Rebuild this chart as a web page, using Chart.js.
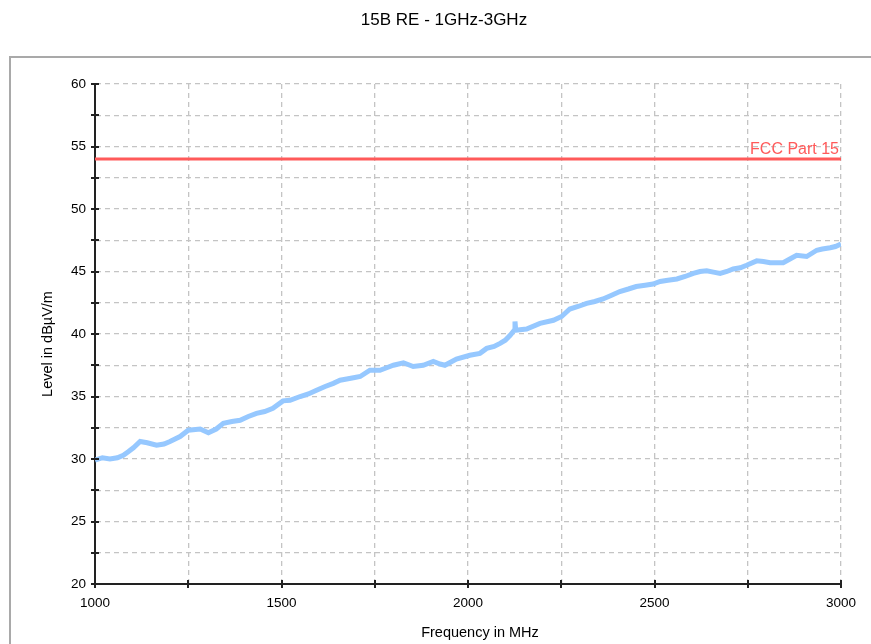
<!DOCTYPE html>
<html>
<head>
<meta charset="utf-8">
<title>15B RE - 1GHz-3GHz</title>
<script src="https://cdn.jsdelivr.net/npm/chart.js@4.4.0/dist/chart.umd.min.js"></script>
<style>
  body { margin: 0; background: #ffffff; }
  #chart { display: block; }
</style>
</head>
<body>
<canvas id="chart" width="871" height="644"></canvas>
<script>
'use strict'

// Radiated emissions scan 1GHz - 3GHz against the FCC Part 15 limit line

// Chart Data
let frequencies = [
  1000, 1020, 1040, 1060, 1076, 1090, 1103, 1121, 1140, 1165,
  1185, 1201, 1228, 1250, 1282, 1304, 1325, 1344, 1367, 1389,
  1411, 1433, 1455, 1477, 1504, 1523, 1550, 1572, 1594, 1617,
  1639, 1657, 1675, 1693, 1711, 1737, 1764, 1782, 1800, 1827,
  1853, 1880, 1907, 1925, 1938, 1969, 2005, 2032, 2050, 2070,
  2086, 2100, 2113, 2124, 2126, 2128, 2157, 2193, 2229, 2251,
  2273, 2295, 2318, 2340, 2362, 2385, 2407, 2430, 2451, 2475,
  2496, 2515, 2536, 2560, 2582, 2604, 2622, 2640, 2658, 2676,
  2694, 2711, 2730, 2747, 2774, 2792, 2810, 2828, 2845, 2863,
  2881, 2908, 2935, 2950, 2971, 2985, 3000
];
let levels = [
  29.9, 30.1, 30.0, 30.1, 30.3, 30.6, 30.9, 31.4, 31.3, 31.1,
  31.2, 31.4, 31.8, 32.3, 32.4, 32.1, 32.4, 32.85, 33.0, 33.1,
  33.4, 33.65, 33.8, 34.05, 34.65, 34.7, 35.0, 35.2, 35.5, 35.8,
  36.05, 36.3, 36.4, 36.5, 36.6, 37.1, 37.1, 37.3, 37.5, 37.7,
  37.4, 37.5, 37.8, 37.6, 37.5, 38.0, 38.3, 38.45, 38.85, 39.0,
  39.25, 39.5, 39.9, 40.3, 41.0, 40.3, 40.4, 40.85, 41.1, 41.4,
  42.0, 42.2, 42.45, 42.6, 42.8, 43.1, 43.4, 43.6, 43.8, 43.9,
  44.0, 44.2, 44.3, 44.4, 44.6, 44.85, 45.0, 45.05, 44.95, 44.85,
  45.0, 45.2, 45.3, 45.5, 45.85, 45.8, 45.7, 45.7, 45.7, 46.0,
  46.3, 46.2, 46.7, 46.8, 46.9, 47.0, 47.2
];
let limitFrequencies = [1000, 3000];
let limitLevels = [54, 54];
let limitName = 'FCC Part 15';
let xTickValues = [1000, 1500, 2000, 2500, 3000];
let yTickValues = [20, 25, 30, 35, 40, 45, 50, 55, 60];

let chartTitle = '15B RE - 1GHz-3GHz';
let xTitle = 'Frequency in MHz';
let yTitle = 'Level in dB\u00B5V/m';
let fontName = "'Liberation Sans', Arial, sans-serif";

// Global Functions
function toPoints(xs, ys) {
  let points = [];
  for (let i = 0; i < xs.length; i++) {
    points.push({ x: xs[i], y: ys[i] });
  }
  return points;
}

// frame, titles, limit label and the little ticks that cross each axis
let decorations = {
  id: 'decorations',
  beforeDraw(chart) {
    let ctx = chart.ctx;
    ctx.save();
    ctx.strokeStyle = '#a9a9a9';
    ctx.lineWidth = 2;
    ctx.strokeRect(10, 57, 900, 700);
    ctx.restore();
  },
  afterDraw(chart) {
    let ctx = chart.ctx;
    let area = chart.chartArea;
    let x = chart.scales.x;
    let y = chart.scales.y;
    ctx.save();

    ctx.strokeStyle = '#222222';
    ctx.lineWidth = 2;
    for (let i = 0; i < y.ticks.length; i++) {
      let py = Math.round(y.getPixelForValue(y.ticks[i].value));
      ctx.beginPath();
      ctx.moveTo(area.left - 4, py);
      ctx.lineTo(area.left + 4, py);
      ctx.stroke();
    }
    for (let i = 0; i < x.ticks.length; i++) {
      let px = Math.round(x.getPixelForValue(x.ticks[i].value));
      ctx.beginPath();
      ctx.moveTo(px, area.bottom - 4);
      ctx.lineTo(px, area.bottom + 4);
      ctx.stroke();
    }

    ctx.fillStyle = '#000000';
    ctx.textAlign = 'center';
    ctx.textBaseline = 'middle';
    ctx.font = '17px ' + fontName;
    ctx.fillText(chartTitle, 444, 20);
    ctx.font = '14.5px ' + fontName;
    ctx.fillText(xTitle, 480, 633);
    ctx.translate(48, 344);
    ctx.rotate(-Math.PI / 2);
    ctx.fillText(yTitle, 0, 0);
    ctx.restore();

    ctx.save();
    ctx.fillStyle = '#ff5a5a';
    ctx.font = '16px ' + fontName;
    ctx.textAlign = 'right';
    ctx.textBaseline = 'bottom';
    ctx.fillText(limitName, area.right - 2, y.getPixelForValue(limitLevels[1]) - 1);
    ctx.restore();
  }
};

// dashed grid lines, solid dark axis lines (chart.js v4 keeps the dash under border)
function gridOptions() {
  return { color: '#c4c4c4', lineWidth: 1.3, drawTicks: false };
}
function borderOptions() {
  return { display: true, color: '#222222', width: 2, dash: [5, 4] };
}

let config = {
  type: 'line',
  data: {
    datasets: [{
      label: 'Level',
      data: toPoints(frequencies, levels),
      borderColor: '#96c8ff',
      borderWidth: 5,
      pointRadius: 0,
      tension: 0
    }, {
      label: limitName,
      data: toPoints(limitFrequencies, limitLevels),
      borderColor: '#ff5a5a',
      borderWidth: 3,
      pointRadius: 0
    }]
  },
  plugins: [decorations],
  options: {
    responsive: false,
    animation: false,
    devicePixelRatio: 1,
    layout: {
      padding: { left: 0, right: 30, top: 84, bottom: 0 }
    },
    plugins: {
      legend: { display: false },
      title: { display: false },
      tooltip: { enabled: false }
    },
    scales: {
      x: {
        type: 'linear',
        min: 1000,
        max: 3000,
        grid: gridOptions(),
        border: borderOptions(),
        ticks: {
          stepSize: 250,
          autoSkip: false,
          maxRotation: 0,
          padding: 11,
          color: '#000000',
          font: { family: fontName, size: 13.5 },
          callback: function (value) {
            return xTickValues.includes(value) ? String(value) : '';
          }
        },
        afterFit: function (scale) { scale.height = 60; }
      },
      y: {
        type: 'linear',
        min: 20,
        max: 60,
        grid: gridOptions(),
        border: borderOptions(),
        ticks: {
          stepSize: 2.5,
          autoSkip: false,
          padding: 9,
          color: '#000000',
          font: { family: fontName, size: 13.5 },
          callback: function (value) {
            return yTickValues.includes(value) ? String(value) : '';
          }
        },
        afterFit: function (scale) { scale.width = 95; }
      }
    }
  }
};

const myChart = new Chart(document.getElementById('chart'), config);
</script>
</body>
</html>
